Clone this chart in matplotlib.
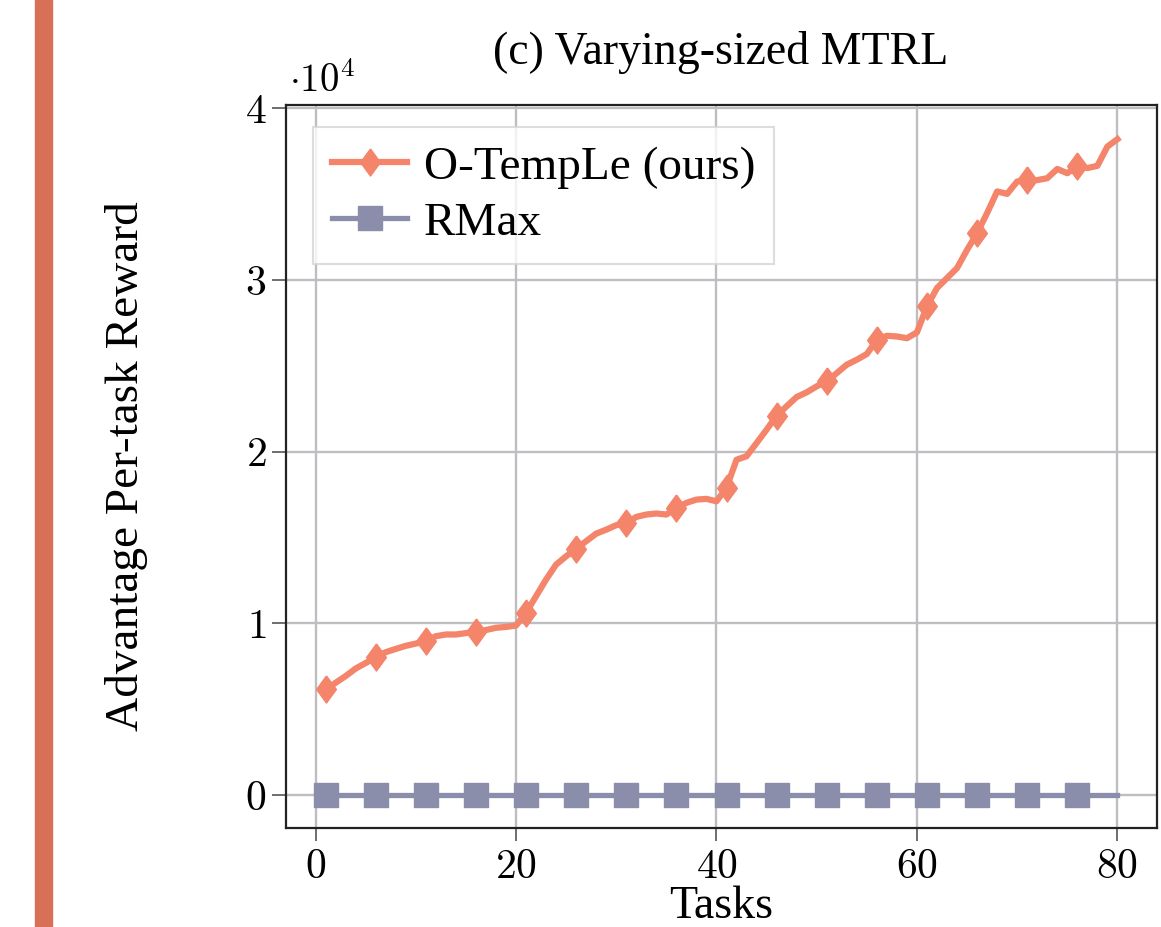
import matplotlib

matplotlib.use("Agg")
import matplotlib.pyplot as plt
from matplotlib.patches import Rectangle
from matplotlib.ticker import FuncFormatter

# ---- data ----
tasks = list(range(1, 81))
otemple = [
    6160, 6550, 6940, 7380, 7700, 8040, 8330, 8520, 8700, 8830,
    8970, 9260, 9360, 9360, 9440, 9520, 9620, 9750, 9800, 9880,
    10620, 11590, 12560, 13430, 13910, 14340, 14790, 15230, 15460, 15720,
    15850, 16200, 16340, 16400, 16340, 16720, 17020, 17210, 17250, 17110,
    17900, 19530, 19730, 20500, 21280, 22090, 22640, 23180, 23450, 23800,
    24090, 24570, 25060, 25350, 25680, 26510, 26740, 26700, 26600, 26940,
    28450, 29520, 30100, 30680, 31740, 32710, 33880, 35140, 35000, 35720,
    35780, 35800, 35910, 36450, 36200, 36630, 36500, 36630, 37750, 38180,
]
rmax = [0] * 80

series_labels = ["O-TempLe (ours)", "RMax"]
COL_OURS = "#F4846A"
COL_RMAX = "#8A8EAA"
COL_BAR = "#D87058"

# slightly narrow diamond, like the pgfplots one
DIAMOND = [(0, 1), (0.73, 0), (0, -1), (-0.73, 0), (0, 1)]

plt.rcParams["font.family"] = ["Liberation Serif", "DejaVu Serif"]
plt.rcParams["mathtext.fontset"] = "cm"

W, H = 1161, 927
fig = plt.figure(figsize=(W / 100, H / 100), dpi=100)

# decorative vertical bar on the left edge
fig.patches.append(Rectangle((35 / W, 0), 17 / W, 1, transform=fig.transFigure,
                             color=COL_BAR, zorder=0))

ax = fig.add_axes([286 / W, 1 - 828 / H, (1157 - 286) / W, (828 - 105) / H])

ax.plot(tasks, otemple, color=COL_OURS, lw=4.5, marker=DIAMOND, ms=19.5, markevery=5,
        label=series_labels[0], zorder=3)
ax.plot(tasks, rmax, color=COL_RMAX, lw=3.8, marker="s", ms=17.5, markevery=5,
        label=series_labels[1], zorder=3)

ax.set_xlim(-2.95, 83.95)
ax.set_ylim(-1900, 40170)
ax.set_xticks([0, 20, 40, 60, 80])
ax.set_yticks([0, 10000, 20000, 30000, 40000])
ax.xaxis.set_major_formatter(FuncFormatter(lambda v, p: f"${v:.0f}$"))
ax.yaxis.set_major_formatter(FuncFormatter(lambda v, p: f"${v / 1e4:.0f}$"))
ax.tick_params(axis="both", labelsize=30, direction="out", width=1.2, color="#555555")
ax.tick_params(axis="y", length=10, pad=4)
ax.tick_params(axis="x", length=9, pad=6)

ax.grid(True, color="#BDBDC2", lw=1.7)
ax.set_axisbelow(True)
for sp in ax.spines.values():
    sp.set_linewidth(1.6)
    sp.set_color("#222222")

ax.text(0.003, 1.006, r"$\cdot 10^4$", transform=ax.transAxes, fontsize=28,
        ha="left", va="bottom")

fig.text(721 / W, 1 - 53 / H, "(c) Varying-sized MTRL", fontsize=33,
         ha="center", va="center")
fig.text(127 / W, 1 - 466 / H, "Advantage Per-task Reward", fontsize=34,
         rotation=90, ha="center", va="center")
fig.text(721 / W, 1 - 907 / H, "Tasks", fontsize=33, ha="center", va="center")

leg = ax.legend(loc="upper left", bbox_to_anchor=(0.031, 0.97), borderaxespad=0,
                fontsize=34, frameon=True, fancybox=False, handlelength=1.6,
                borderpad=0.4, labelspacing=0.28, handletextpad=0.35)
leg.get_frame().set_edgecolor("#D5D5D5")
leg.get_frame().set_linewidth(1.5)

fig.savefig("out.png", dpi=100, facecolor="white")
